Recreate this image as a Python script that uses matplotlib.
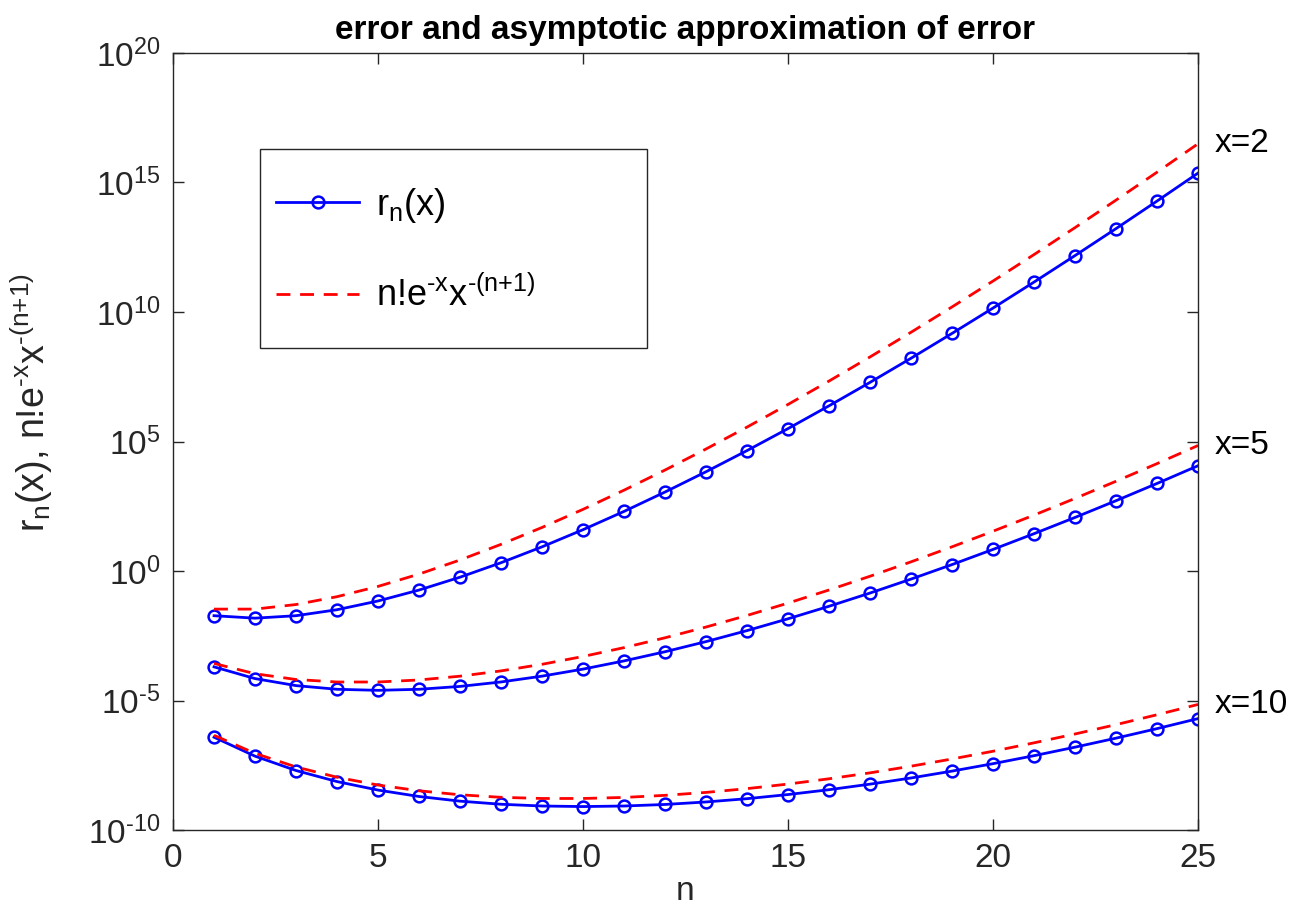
import numpy as np
import matplotlib.pyplot as plt
from matplotlib.patches import Rectangle

plt.rcParams['font.family'] = ['Liberation Sans', 'DejaVu Sans']
plt.rcParams['mathtext.fontset'] = 'custom'
plt.rcParams['mathtext.rm'] = 'Liberation Sans'
plt.rcParams['mathtext.it'] = 'Liberation Sans'
plt.rcParams['mathtext.default'] = 'regular'
plt.rcParams['axes.unicode_minus'] = False

# data
n = np.arange(1, 26)

err_x2 = [1.88e-2, 1.51e-2, 1.88e-2, 3.20e-2, 6.96e-2, 1.84e-1, 5.77e-1, 2.09, 8.57,
          3.94e1, 2.00e2, 1.12e3, 6.80e3, 4.46e4, 3.15e5, 2.39e6, 1.92e7, 1.64e8,
          1.49e9, 1.42e10, 1.43e11, 1.51e12, 1.66e13, 1.92e14, 2.31e15]
approx_x2 = [3.38e-2, 3.38e-2, 5.08e-2, 1.02e-1, 2.54e-1, 7.61e-1, 2.66, 1.07e1, 4.80e1,
             2.40e2, 1.32e3, 7.91e3, 5.14e4, 3.60e5, 2.70e6, 2.16e7, 1.84e8, 1.65e9,
             1.57e10, 1.57e11, 1.65e12, 1.81e13, 2.09e14, 2.50e15, 3.13e16]

err_x5 = [1.99e-4, 7.02e-5, 3.76e-5, 2.71e-5, 2.47e-5, 2.71e-5, 3.50e-5, 5.20e-5, 8.72e-5,
          1.63e-4, 3.38e-4, 7.64e-4, 1.88e-3, 5.00e-3, 1.43e-2, 4.35e-2, 1.41e-1, 4.87e-1,
          1.77, 6.82, 2.76e1, 1.17e2, 5.18e2, 2.40e3, 1.16e4]
approx_x5 = [2.70e-4, 1.08e-4, 6.47e-5, 5.18e-5, 5.18e-5, 6.21e-5, 8.69e-5, 1.39e-4, 2.50e-4,
             5.01e-4, 1.10e-3, 2.64e-3, 6.87e-3, 1.92e-2, 5.77e-2, 1.85e-1, 6.28e-1, 2.26,
             8.59, 3.44e1, 1.44e2, 6.35e2, 2.92e3, 1.40e4, 7.01e4]

err_x10 = [3.83e-7, 7.10e-8, 1.98e-8, 7.41e-9, 3.48e-9, 1.97e-9, 1.30e-9, 9.87e-10, 8.44e-10,
           8.04e-10, 8.44e-10, 9.69e-10, 1.21e-9, 1.62e-9, 2.34e-9, 3.60e-9, 5.90e-9, 1.02e-8,
           1.88e-8, 3.64e-8, 7.40e-8, 1.58e-7, 3.52e-7, 8.21e-7, 2.00e-6]
approx_x10 = [4.54e-7, 9.08e-8, 2.72e-8, 1.09e-8, 5.45e-9, 3.27e-9, 2.29e-9, 1.83e-9, 1.65e-9,
              1.65e-9, 1.81e-9, 2.18e-9, 2.83e-9, 3.96e-9, 5.94e-9, 9.50e-9, 1.61e-8, 2.91e-8,
              5.52e-8, 1.10e-7, 2.32e-7, 5.10e-7, 1.17e-6, 2.82e-6, 7.04e-6]

curve_labels = ['x=2', 'x=5', 'x=10']
errs = [err_x2, err_x5, err_x10]
approxs = [approx_x2, approx_x5, approx_x10]

fig = plt.figure(figsize=(12.97, 9.09), dpi=100)
ax = fig.add_axes([0.1334, 0.0869, 0.7903, 0.8548])

for i in range(3):
    l1, = ax.semilogy(n, errs[i], '-o', color='#0000ff', lw=2, ms=8.5,
                      mfc='none', mew=1.8)
    l2, = ax.semilogy(n, approxs[i], '--', color='#ff0000', lw=2,
                      dashes=(5, 3.5))
    ax.text(n[-1] + 0.4, approxs[i][-1], curve_labels[i], fontsize=24,
            va='center', ha='left', clip_on=False)

ax.set_xlim(0, 25)
ax.set_ylim(1e-10, 1e20)
ax.set_xticks([0, 5, 10, 15, 20, 25])
ax.set_yticks([1e-10, 1e-5, 1e0, 1e5, 1e10, 1e15, 1e20])
ax.set_yticklabels([r'$10^{\text{-}10}$', r'$10^{\text{-}5}$', '$10^{0}$', '$10^{5}$',
                    '$10^{10}$', '$10^{15}$', '$10^{20}$'])
ax.minorticks_off()
ax.tick_params(direction='in', length=8, width=1, top=True, right=True,
               labelsize=24, colors='#262626', pad=9)
for s in ax.spines.values():
    s.set_color('#262626')
    s.set_linewidth(1)

ax.set_xlabel('n', fontsize=24, color='#262626', labelpad=2)
ax.set_ylabel(r'r$_n$(x), n!e$^{\text{-}x}$x$^{\text{-}(n{+}1)}$', fontsize=27,
              color='#262626')
ax.yaxis.set_label_coords(-0.115, 0.55)
ax.set_title('error and asymptotic approximation of error', fontsize=24,
             fontweight='bold', pad=10)

# legend frame drawn separately so its size matches
ax.add_patch(Rectangle((0.0849, 0.6203), 0.3776, 0.2561, transform=ax.transAxes,
                       fill=True, facecolor='white', edgecolor='#262626', lw=1,
                       zorder=4))
leg = ax.legend([l1, l2], [r'r$_n$(x)', r'n!e$^{\text{-}x}$x$^{\text{-}(n{+}1)}$'],
                loc='upper left', bbox_to_anchor=(0.085, 0.85),
                borderaxespad=0, fontsize=26, frameon=False, handlelength=2.3,
                labelspacing=1.45, borderpad=0.45, handletextpad=0.45)
leg.set_zorder(5)

fig.savefig('out.png', dpi=100)
